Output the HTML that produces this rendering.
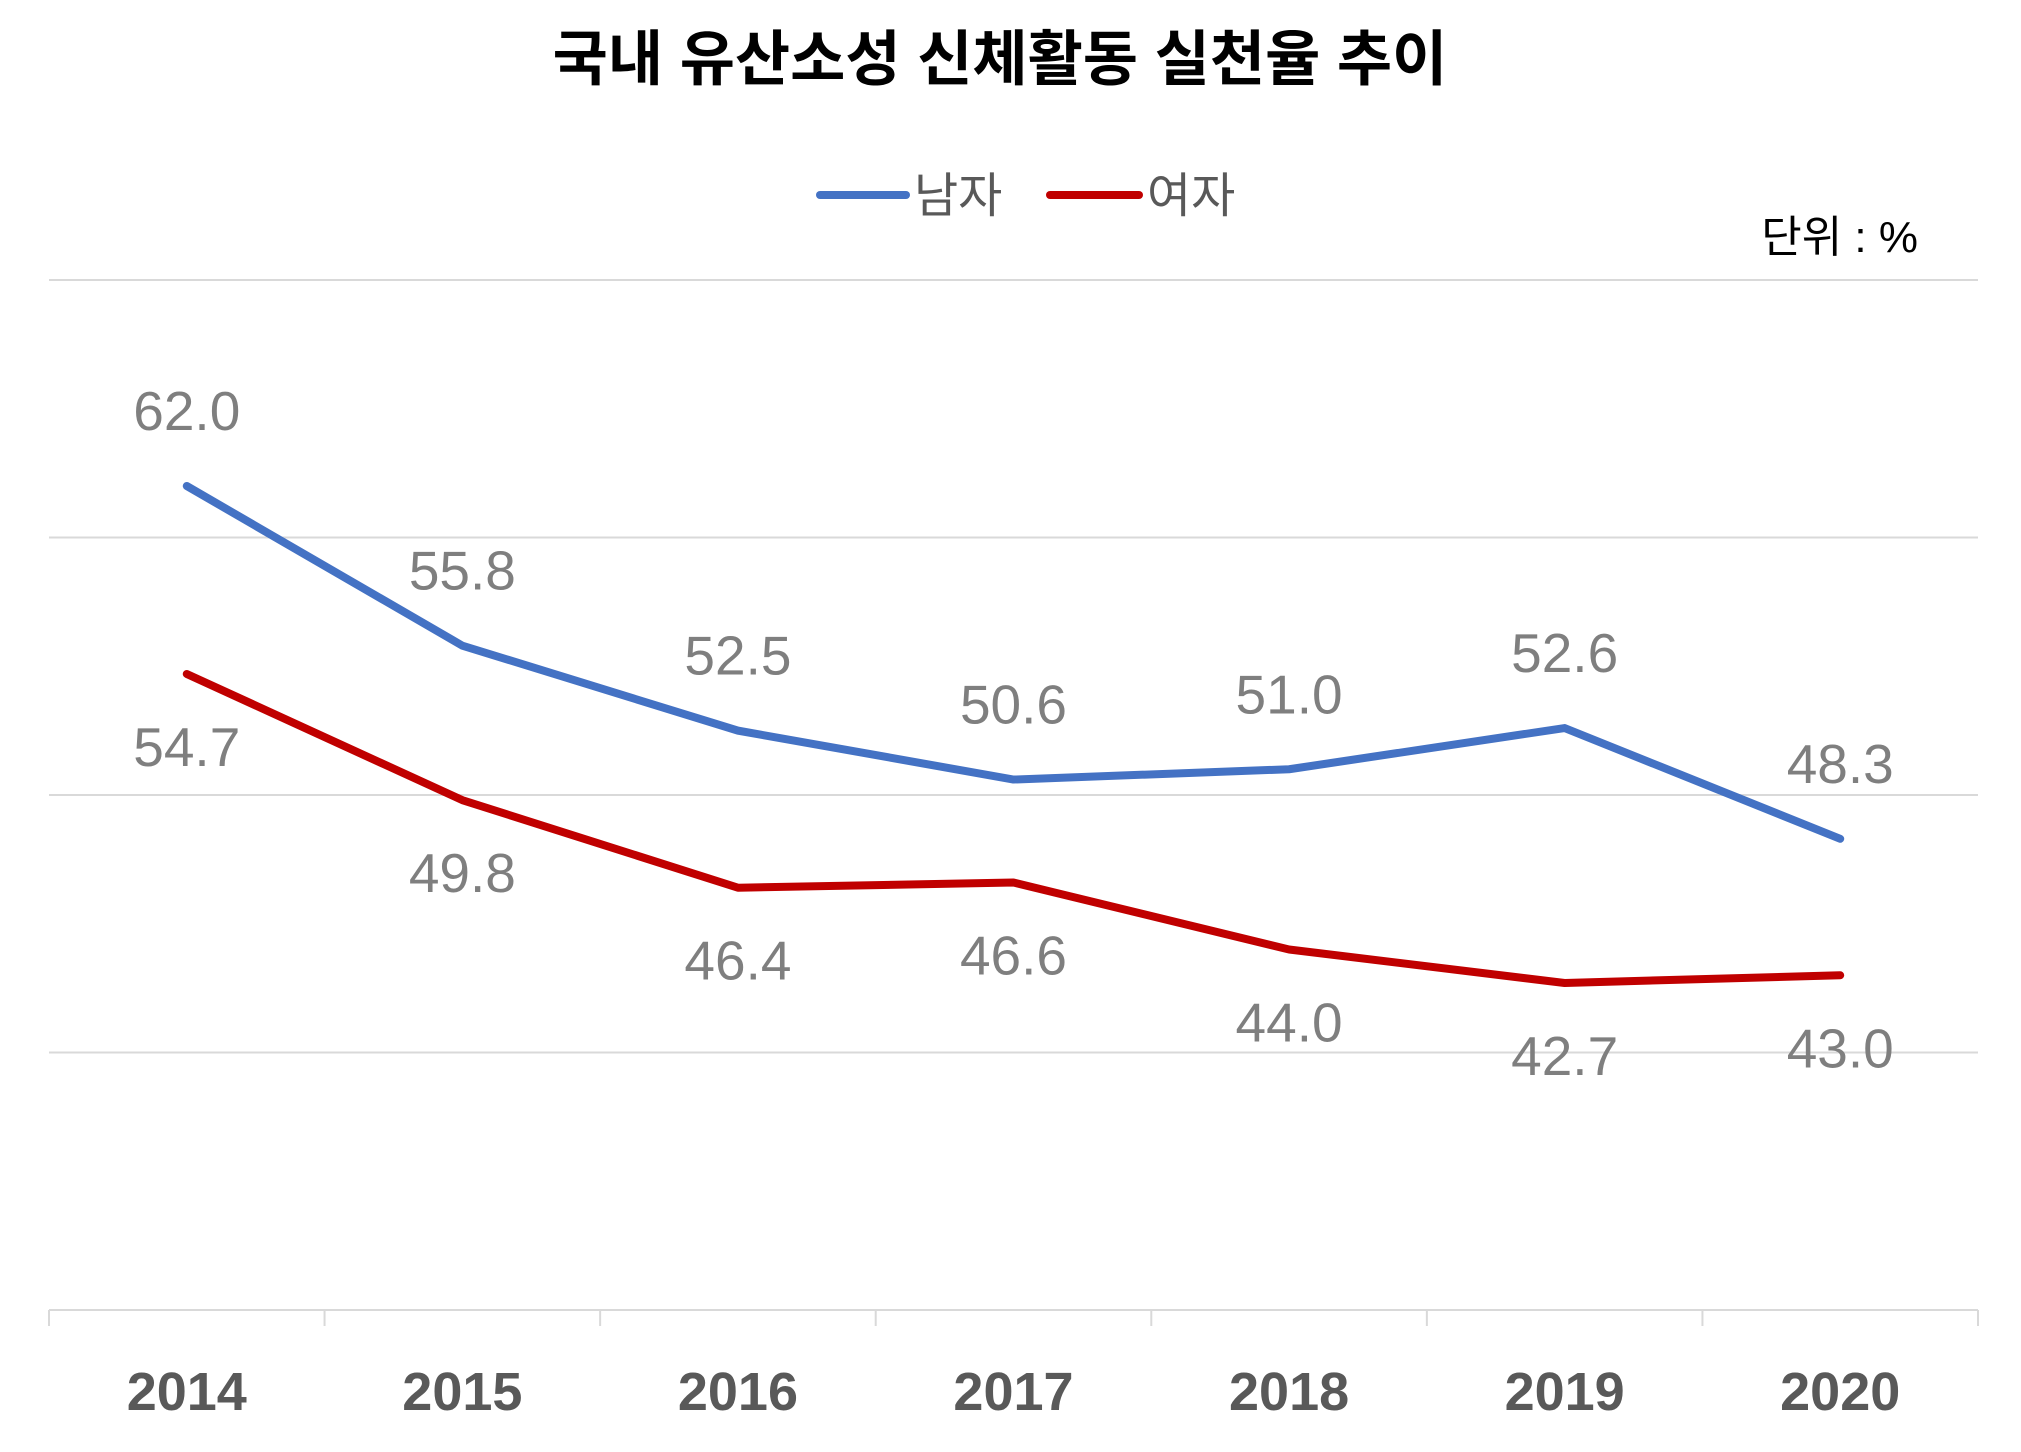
<!DOCTYPE html>
<html><head><meta charset="utf-8">
<style>
html,body{margin:0;padding:0;background:#fff;}
body{width:2021px;height:1447px;overflow:hidden;font-family:"Liberation Sans","Noto Sans CJK KR",sans-serif;}
svg text{font-family:"Liberation Sans","Noto Sans CJK KR",sans-serif;}
</style></head>
<body>
<svg id="chart" width="2021" height="1447" viewBox="0 0 2021 1447" xmlns="http://www.w3.org/2000/svg">
  <text x="1000" y="80" text-anchor="middle" font-size="60" font-weight="bold" fill="#000">국내 유산소성 신체활동 실천율 추이</text>
  <g>
    <g>
      <line x1="820" y1="195" x2="906" y2="195" stroke="#4472c4" stroke-width="8" stroke-linecap="round"/>
      <text x="914" y="212" font-size="48" fill="#595959">남자</text>
    </g>
    <g>
      <line x1="1050" y1="195" x2="1139" y2="195" stroke="#c00000" stroke-width="8" stroke-linecap="round"/>
      <text x="1147" y="212" font-size="48" fill="#595959">여자</text>
    </g>
  </g>
  <text x="1918" y="252" text-anchor="end" font-size="44" fill="#000">단위 : %</text>
  <g id="grid"></g>
  <g id="xaxis"></g>
  <g id="series"></g>
  <g id="labels"></g>
</svg>
<script>
const categories = ["2014","2015","2016","2017","2018","2019","2020"];
const maleValues = [62.0,55.8,52.5,50.6,51.0,52.6,48.3];
const femaleValues = [54.7,49.8,46.4,46.6,44.0,42.7,43.0];
const gridTicks = [30,40,50,60,70];

const NS="http://www.w3.org/2000/svg";
const left=49,right=1978,yTop=280,yBot=1310,yMin=30,yMax=70;
const band=(right-left)/categories.length;
function xPos(i){return left+band*(i+0.5);}
function yPos(v){return yBot-(v-yMin)/(yMax-yMin)*(yBot-yTop);}
function mk(tag,attrs,parent){const e=document.createElementNS(NS,tag);for(const k in attrs)e.setAttribute(k,attrs[k]);parent.appendChild(e);return e;}

const grid=document.getElementById('grid');
gridTicks.forEach(t=>{
  const l=mk('line',{x1:left,x2:right,y1:yPos(t),y2:yPos(t),stroke:'#d9d9d9','stroke-width':2},grid);
  
  
});
const xa=document.getElementById('xaxis');
for(let i=0;i<=categories.length;i++){
  const x=left+band*i;
  const tk=mk('line',{x1:x,x2:x,y1:yBot,y2:yBot+16,stroke:'#d9d9d9','stroke-width':2},xa);
  
  
}
categories.forEach((c,i)=>{
  const t=mk('text',{x:xPos(i),y:1410,'text-anchor':'middle','font-size':54,'font-weight':'bold',fill:'#595959'},xa);
  t.textContent=c;
  
  
});
const ser=document.getElementById('series');
const lab=document.getElementById('labels');
function drawSeries(vals,color,name,offset){
  const pts=vals.map((v,i)=>xPos(i)+','+yPos(v)).join(' ');
  const p=mk('polyline',{points:pts,fill:'none',stroke:color,'stroke-width':8,'stroke-linejoin':'round','stroke-linecap':'round'},ser);
  
  
  vals.forEach((v,i)=>{
    const t=mk('text',{x:xPos(i),y:yPos(v)+offset,'text-anchor':'middle','font-size':55,fill:'#7f7f7f'},lab);
    t.textContent=v.toFixed(1);
    
    
  });
}
drawSeries(maleValues,'#4472c4','male',-56);
drawSeries(femaleValues,'#c00000','female',92);
</script>
</body></html>
